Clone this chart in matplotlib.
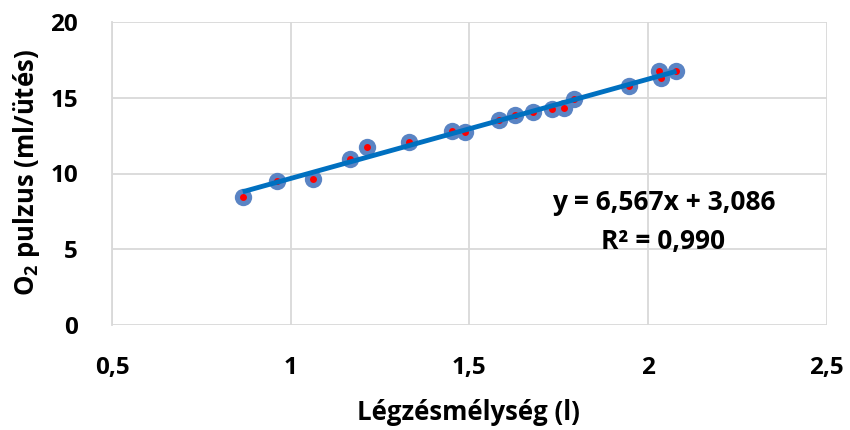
import matplotlib
matplotlib.use("Agg")
import matplotlib.pyplot as plt
import numpy as np

# Data
depth_l = [0.866, 0.963, 1.064, 1.166, 1.215, 1.330, 1.452, 1.487, 1.583, 1.629,
           1.679, 1.733, 1.766, 1.794, 1.947, 2.031, 2.036, 2.080]
o2_pulse = [8.43, 9.52, 9.62, 10.94, 11.73, 12.10, 12.83, 12.76, 13.51, 13.84,
            14.08, 14.24, 14.34, 14.94, 15.80, 16.75, 16.28, 16.75]
x_ticks = [0.5, 1.0, 1.5, 2.0, 2.5]
x_tick_labels = ["0,5", "1", "1,5", "2", "2,5"]
y_ticks = [0, 5, 10, 15, 20]
y_tick_labels = ["0", "5", "10", "15", "20"]
eq_text = "y = 6,567x + 3,086"
r2_text = "R² = 0,990"
x_title = "Légzésmélység (l)"
y_title = r"O$_\mathregular{2}$ pulzus (ml/ütés)"

plt.rcParams['font.family'] = ['Open Sans', 'DejaVu Sans']
plt.rcParams['font.weight'] = 'bold'
plt.rcParams['mathtext.default'] = 'regular'

fig = plt.figure(figsize=(8.5, 4.3), dpi=100)
ax = fig.add_axes([112/850, 1-325/430, (826.5-112)/850, (325-22)/430])

grid_c = '#D9D9D9'
ax.set_xlim(0.5, 2.5)
ax.set_ylim(0, 20)
ax.set_xticks(x_ticks)
ax.set_xticklabels(x_tick_labels)
ax.set_yticks(y_ticks)
ax.set_yticklabels(y_tick_labels)
ax.grid(True, color=grid_c, linewidth=1.3, zorder=0)
for s in ['top', 'right', 'bottom']:
    ax.spines[s].set_visible(False)
ax.spines['left'].set_color(grid_c)
ax.spines['left'].set_linewidth(1.3)
ax.tick_params(length=0, labelsize=17.5, colors='black')
ax.tick_params(axis='y', pad=24.5)
ax.tick_params(axis='x', pad=22)
for lbl in ax.get_xticklabels() + ax.get_yticklabels():
    lbl.set_fontweight('bold')

x = np.array(depth_l)
y = np.array(o2_pulse)
ax.scatter(x, y, s=12.5**2, color='#5A84C4', zorder=3, linewidths=0)
ax.scatter(x, y, s=5**2, color='#FF0000', zorder=4, linewidths=0)
coef = np.polyfit(x, y, 1)
xx = np.array([x.min(), x.max()])
ax.plot(xx, np.polyval(coef, xx), color='#0070C0', linewidth=3.5, zorder=5,
        solid_capstyle='butt')

ax.text(664/850, 1-203/430, eq_text, transform=fig.transFigure, ha='center',
        va='center', fontsize=19, fontweight='bold', zorder=6)
ax.text(663/850, 1-242/430, r2_text, transform=fig.transFigure, ha='center',
        va='center', fontsize=19, fontweight='bold', zorder=6)

fig.text(468/850, 1-412/430, x_title, ha='center', va='center',
         fontsize=18.5, fontweight='bold')
fig.text(27/850, 1-173/430, y_title, ha='center', va='center', rotation=90,
         fontsize=18.5, fontweight='bold')

fig.savefig('out.png', dpi=100)
